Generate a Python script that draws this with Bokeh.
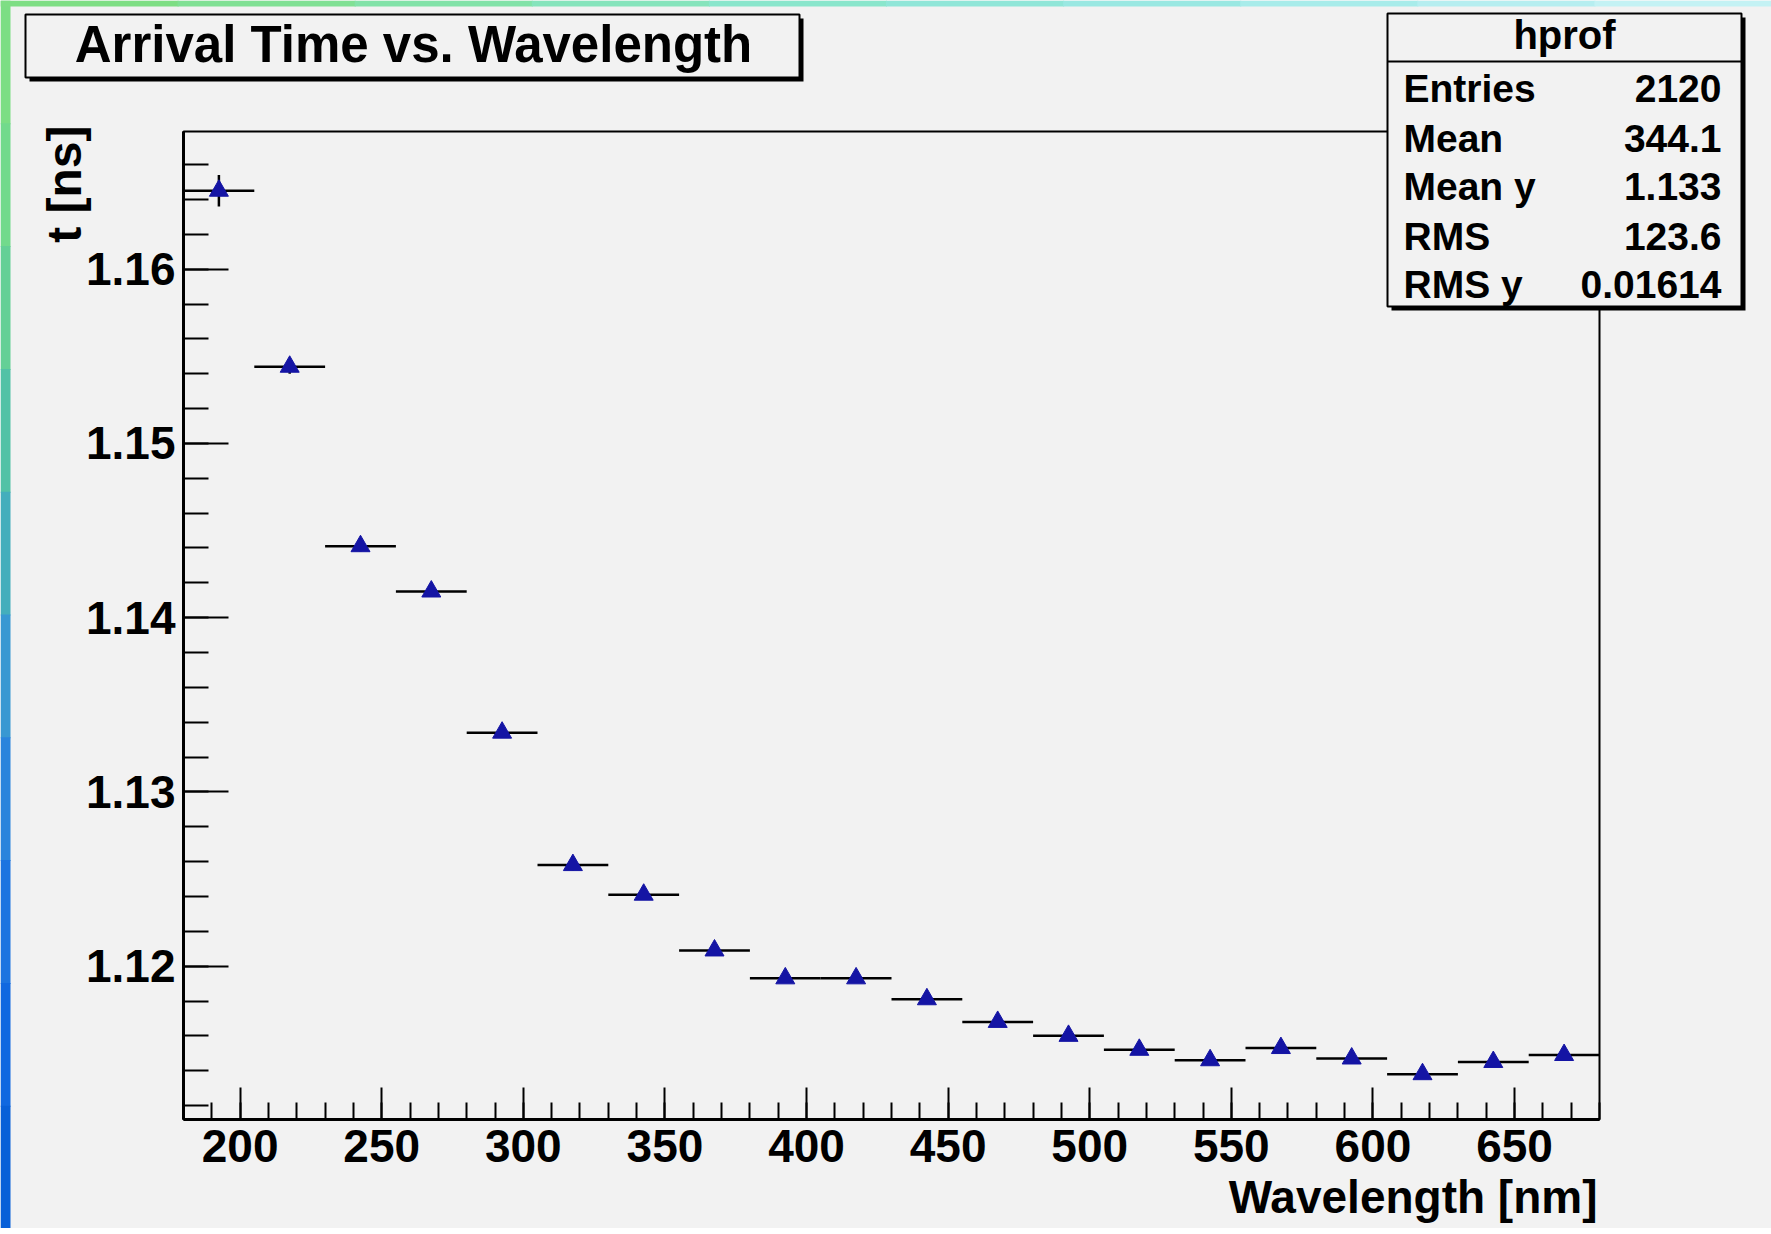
import numpy as np
from bokeh.plotting import figure
from bokeh.models import (Range1d, SingleIntervalTicker, Label, BoxAnnotation,
                          ColumnDataSource, PrintfTickFormatter)
from bokeh.embed import file_html
from bokeh.resources import INLINE

# ---------------- data ----------------
title_text = "Arrival Time vs. Wavelength"
x_title = "Wavelength [nm]"
y_title = "t [ns]"

wavelength = [192.5, 217.5, 242.5, 267.5, 292.5, 317.5, 342.5, 367.5, 392.5, 417.5,
              442.5, 467.5, 492.5, 517.5, 542.5, 567.5, 592.5, 617.5, 642.5, 667.5]
bin_half_width = [12.5] * 20
arrival_time = [1.1645, 1.1544, 1.1441, 1.1415, 1.1334, 1.1258, 1.1241, 1.1209, 1.1193, 1.1193,
                1.1181, 1.1168, 1.1160, 1.1152, 1.1146, 1.1153, 1.1147, 1.1138, 1.1145, 1.1149]
arrival_err = [0.0009, 0.0004, 0.0003, 0.0003, 0.0003, 0.0003, 0.0003, 0.0002, 0.0002, 0.0002,
               0.0002, 0.0002, 0.0002, 0.0002, 0.0002, 0.0002, 0.0002, 0.0002, 0.0002, 0.0002]

stats_name = "hprof"
stats_labels = ["Entries", "Mean", "Mean y", "RMS", "RMS y"]
stats_values = ["2120", "344.1", "1.133", "123.6", "0.01614"]

x_lo, x_hi = 180, 680
y_lo, y_hi = 1.1112, 1.1679

# decorative window-edge gradient colours
left_edge_colors = ["#7cde84", "#72da8c", "#64d096", "#52c2a6", "#44aebc", "#3898d2",
                    "#2a84dc", "#1c74e0", "#1068e0", "#0860d8"]
top_edge_colors = ["#7ede84", "#80e094", "#82e2a8", "#86e4bc", "#8ae6cc", "#90e6d8",
                   "#9ae8e2", "#a8ecea", "#b6eef0", "#c4f2f4"]

# ---------------- style / layout ----------------
BG = "#f2f2f2"
BLUE = "#1414a4"
FONT = "Liberation Sans"
W, H = 1771, 1228
FL, FT, FR, FB = 183, 131, 1599, 1119   # plot-area edges in px

sx = (x_hi - x_lo) / (FR - FL)
sy = (y_hi - y_lo) / (FB - FT)
xr = Range1d(x_lo - FL * sx, x_lo + (W - FL) * sx)
yr = Range1d(y_hi - (H - FT) * sy, y_hi + FT * sy)

p = figure(width=W, height=H, x_range=xr, y_range=yr,
           output_backend="svg", toolbar_location=None,
           min_border_left=0, min_border_right=0, min_border_top=0, min_border_bottom=0,
           background_fill_color=BG, border_fill_color=BG, outline_line_color=None)
p.xgrid.grid_line_color = None
p.ygrid.grid_line_color = None

def px_x(px):
    return x_lo + (px - FL) * sx

def px_y(py):
    return y_hi - (py - FT) * sy

def box(l, t, r, b, color, level="underlay", line=None, lw=1):
    p.add_layout(BoxAnnotation(left=px_x(l), right=px_x(r), top=px_y(t), bottom=px_y(b),
                               fill_color=color, fill_alpha=1 if color else 0,
                               line_color=line, line_alpha=1 if line else 0, line_width=lw,
                               level=level))

# window-edge gradient strips
n = len(left_edge_colors)
for i, c in enumerate(left_edge_colors):
    box(0, i * H / n, 10, (i + 1) * H / n + 1, c)
n = len(top_edge_colors)
for i, c in enumerate(top_edge_colors):
    box(i * W / n, 0, (i + 1) * W / n + 1, 6, c)

# plot frame
p.add_layout(BoxAnnotation(left=x_lo, right=x_hi, bottom=y_lo, top=y_hi, fill_alpha=0,
                           line_color="black", line_width=2, line_alpha=1, level="underlay"))

# axes (drawn at the plot-area edges)
xa = p.xaxis[0]
xa.fixed_location = y_lo
xa.bounds = (x_lo, x_hi)
xa.ticker = SingleIntervalTicker(interval=50, num_minor_ticks=5)
xa.major_tick_in = 32; xa.major_tick_out = 0
xa.minor_tick_in = 17; xa.minor_tick_out = 0
xa.major_label_standoff = 10
ya = p.yaxis[0]
ya.fixed_location = x_lo
ya.bounds = (y_lo, y_hi)
ya.ticker = SingleIntervalTicker(interval=0.01, num_minor_ticks=5)
ya.formatter = PrintfTickFormatter(format="%.2f")
ya.major_tick_in = 45; ya.major_tick_out = 0
ya.minor_tick_in = 25; ya.minor_tick_out = 0
ya.major_label_standoff = 8
for ax in (xa, ya):
    ax.axis_line_width = 3
    ax.axis_line_color = "black"
    ax.major_tick_line_width = 2
    ax.minor_tick_line_width = 2
    ax.major_tick_line_color = "black"
    ax.minor_tick_line_color = "black"
    ax.major_label_text_font = FONT
    ax.major_label_text_font_style = "bold"
    ax.major_label_text_font_size = "46px"
    ax.major_label_text_color = "black"

# data marks
x0 = [w - h for w, h in zip(wavelength, bin_half_width)]
x1 = [w + h for w, h in zip(wavelength, bin_half_width)]
ylo = [t - e for t, e in zip(arrival_time, arrival_err)]
yhi = [t + e for t, e in zip(arrival_time, arrival_err)]
src = ColumnDataSource(dict(x=wavelength, y=arrival_time, x0=x0, x1=x1, ylo=ylo, yhi=yhi))
p.segment(x0="x0", y0="y", x1="x1", y1="y", source=src, line_color="black", line_width=2.5)
p.segment(x0="x", y0="ylo", x1="x", y1="yhi", source=src, line_color="black", line_width=2.5)
p.scatter(x="x", y="y", source=src, marker="triangle", size=19,
          fill_color=BLUE, line_color=BLUE)

def text(x, y, s, size, align="left", baseline="alphabetic", angle=0.0):
    p.add_layout(Label(x=px_x(x), y=px_y(y), text=s, text_align=align,
                       text_baseline=baseline, angle=angle, text_font=FONT,
                       text_font_style="bold", text_font_size=f"{size}px",
                       text_color="black"))

# axis titles
text(1597, 1196, x_title, 46, align="right")
text(64, 125, y_title, 48, align="right", baseline="middle", angle=np.pi / 2)

def pave(l, t, r, b):
    box(l + 4, t + 4, r + 4, b + 4, "black", level="annotation")
    box(l, t, r, b, BG, level="annotation", line="black", lw=2)

# title pave
pave(25, 14, 799, 77)
text(413, 44, title_text, 51, align="center")

# stats pave
pave(1387, 13, 1741, 306)
box(1387, 60, 1741, 62, "black", level="annotation")
text(1564, 34, stats_name, 40, align="center")
row_base = [88, 138, 186, 236, 284]
for lab, val, yb in zip(stats_labels, stats_values, row_base):
    text(1403, yb, lab, 39, align="left")
    text(1721, yb, val, 39, align="right")

open("out.html", "w").write(file_html(p, INLINE))
